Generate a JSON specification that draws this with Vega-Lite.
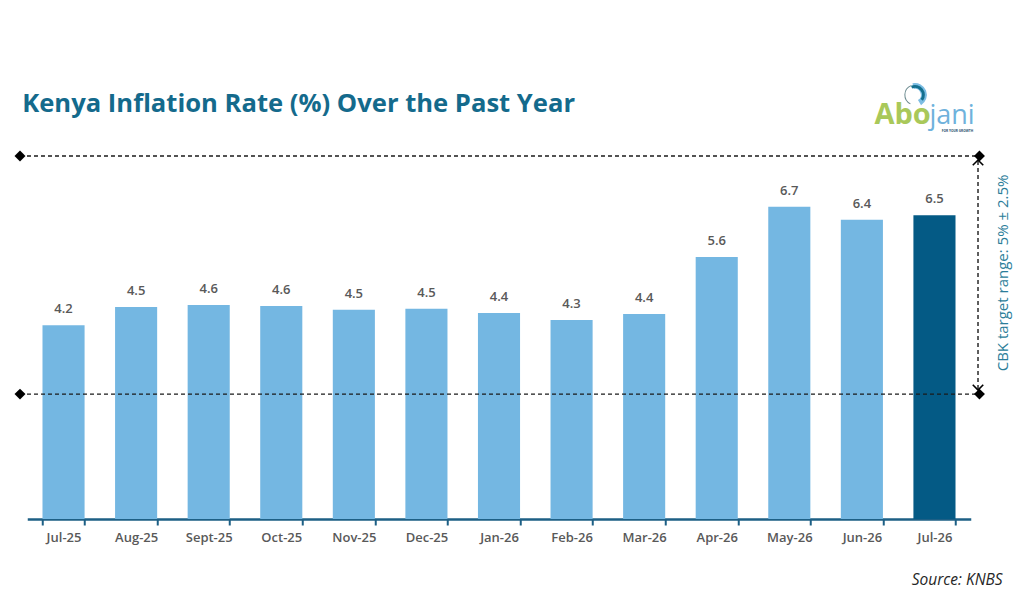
{
"$schema":"https://vega.github.io/schema/vega-lite/v6.json",
"width":943.5,"height":384,
"autosize":{"type":"none"},
"padding":{"left":27.25,"top":135,"right":53.25,"bottom":82},
"background":"white",
"title":{"text":"Kenya Inflation Rate (%) Over the Past Year","anchor":"start","frame":"group","dx":-5,"offset":-35,"font":"Open Sans","fontSize":25.6,"fontWeight":700,"color":"#146a8c"},
"config":{"view":{"stroke":null},"font":"Open Sans"},
"datasets":{
"rates":[
{"month":"Jul-25","rate":4.16,"label":"4.2","group":"past"},
{"month":"Aug-25","rate":4.55,"label":"4.5","group":"past"},
{"month":"Sept-25","rate":4.59,"label":"4.6","group":"past"},
{"month":"Oct-25","rate":4.57,"label":"4.6","group":"past"},
{"month":"Nov-25","rate":4.49,"label":"4.5","group":"past"},
{"month":"Dec-25","rate":4.51,"label":"4.5","group":"past"},
{"month":"Jan-26","rate":4.42,"label":"4.4","group":"past"},
{"month":"Feb-26","rate":4.27,"label":"4.3","group":"past"},
{"month":"Mar-26","rate":4.4,"label":"4.4","group":"past"},
{"month":"Apr-26","rate":5.62,"label":"5.6","group":"past"},
{"month":"May-26","rate":6.7,"label":"6.7","group":"past"},
{"month":"Jun-26","rate":6.42,"label":"6.4","group":"past"},
{"month":"Jul-26","rate":6.52,"label":"6.5","group":"latest"}
],
"bounds":[
{"name":"upper","from":-0.1,"to":13.12,"level":7.79},
{"name":"lower","from":-0.1,"to":13.12,"level":2.68}
],
"ends":[
{"pos":-0.1,"level":7.79},{"pos":13.12,"level":7.79},
{"pos":-0.1,"level":2.68},{"pos":13.12,"level":2.68}
],
"range":[{"pos":13.1,"low":2.79,"high":7.68}],
"arrowUp":[{"pos":13.1,"level":7.68}],
"arrowDown":[{"pos":13.1,"level":2.79}],
"note":[{"pos":13.55,"level":5.28,"text":"CBK target range: 5% ± 2.5%"}],
"source":[{"pos":13.44,"level":-1.3,"text":"Source: KNBS"}],
"logoA":[{"pos":12.45,"level":8.48,"text":"Abo"}],
"logoB":[{"pos":12.43,"level":8.48,"text":"jani"}],
"logoC":[{"pos":12.6,"level":8.3,"text":"FOR YOUR GROWTH"}],
"swoosh":[{"pos":12.23,"level":9.1}]
},
"resolve":{"scale":{"x":"independent"}},
"layer":[
{
"data":{"name":"rates"},
"encoding":{
"x":{"field":"month","type":"nominal","sort":null,
"scale":{"paddingInner":0.42,"paddingOuter":0.21},
"axis":{"title":null,"labelAngle":0,"tickBand":"extent","domainColor":"#1d5f85","domainWidth":2.5,"tickColor":"#1d5f85","tickWidth":2,"tickSize":6,"labelColor":"#595959","labelFont":"Open Sans","labelFontSize":13,"labelFontWeight":600,"labelPadding":6}},
"y":{"field":"rate","type":"quantitative","scale":{"domain":[0,8.24],"nice":false},"axis":null}
},
"layer":[
{"mark":{"type":"bar"},
"encoding":{"color":{"field":"group","type":"nominal","scale":{"domain":["past","latest"],"range":["#74b7e2","#045a85"]},"legend":null}}},
{"mark":{"type":"text","dy":-16,"fontSize":13,"fontWeight":600,"color":"#595959","font":"Open Sans"},
"encoding":{"text":{"field":"label","type":"nominal"}}}
]
},
{
"layer":[
{"data":{"name":"bounds"},
"mark":{"type":"rule","color":"#1a1a1a","strokeWidth":1.4,"strokeDash":[4,3]},
"encoding":{"x":{"field":"from","type":"quantitative","scale":{"domain":[0,13],"nice":false,"zero":false},"axis":null},"x2":{"field":"to"},"y":{"field":"level","type":"quantitative"}}},
{"data":{"name":"ends"},
"mark":{"type":"point","shape":"diamond","filled":true,"color":"#000000","size":120,"opacity":1},
"encoding":{"x":{"field":"pos","type":"quantitative"},"y":{"field":"level","type":"quantitative"}}},
{"data":{"name":"range"},
"mark":{"type":"rule","color":"#1a1a1a","strokeWidth":1.4,"strokeDash":[4,3]},
"encoding":{"x":{"field":"pos","type":"quantitative"},"y":{"field":"low","type":"quantitative"},"y2":{"field":"high"}}},
{"data":{"name":"arrowUp"},
"mark":{"type":"point","shape":"M-1,0.8L0,-0.2L1,0.8","filled":false,"color":"#000000","strokeWidth":1.6,"size":110,"opacity":1},
"encoding":{"x":{"field":"pos","type":"quantitative"},"y":{"field":"level","type":"quantitative"}}},
{"data":{"name":"arrowDown"},
"mark":{"type":"point","shape":"M-1,-0.8L0,0.2L1,-0.8","filled":false,"color":"#000000","strokeWidth":1.6,"size":110,"opacity":1},
"encoding":{"x":{"field":"pos","type":"quantitative"},"y":{"field":"level","type":"quantitative"}}},
{"data":{"name":"note"},
"mark":{"type":"text","angle":270,"fontSize":15,"color":"#2b7d99","font":"Open Sans","align":"center","baseline":"bottom"},
"encoding":{"x":{"field":"pos","type":"quantitative"},"y":{"field":"level","type":"quantitative"},"text":{"field":"text"}}},
{"data":{"name":"source"},
"mark":{"type":"text","fontSize":15.5,"fontStyle":"italic","color":"#262626","font":"Open Sans","align":"right"},
"encoding":{"x":{"field":"pos","type":"quantitative"},"y":{"field":"level","type":"quantitative"},"text":{"field":"text"}}},
{"data":{"name":"logoA"},
"mark":{"type":"text","fontSize":29,"fontWeight":700,"color":"#a9c85a","font":"Open Sans","align":"right","baseline":"alphabetic"},
"encoding":{"x":{"field":"pos","type":"quantitative"},"y":{"field":"level","type":"quantitative"},"text":{"field":"text"}}},
{"data":{"name":"logoB"},
"mark":{"type":"text","fontSize":27,"fontWeight":500,"color":"#6fb2dc","font":"Open Sans","align":"left","baseline":"alphabetic"},
"encoding":{"x":{"field":"pos","type":"quantitative"},"y":{"field":"level","type":"quantitative"},"text":{"field":"text"}}},
{"data":{"name":"logoC"},
"mark":{"type":"text","fontSize":3.2,"fontWeight":700,"color":"#1f4f6b","font":"Open Sans","align":"left","baseline":"alphabetic"},
"encoding":{"x":{"field":"pos","type":"quantitative"},"y":{"field":"level","type":"quantitative"},"text":{"field":"text"}}},
{"data":{"name":"swoosh"},
"mark":{"type":"arc","innerRadius":6,"outerRadius":12,"theta":-0.2,"theta2":2.6,"color":"#7dbde3"},
"encoding":{"x":{"field":"pos","type":"quantitative"},"y":{"field":"level","type":"quantitative"}}},
{"data":{"name":"swoosh"},
"mark":{"type":"arc","innerRadius":7,"outerRadius":10,"theta":-0.4,"theta2":2.2,"color":"#14708f"},
"encoding":{"x":{"field":"pos","type":"quantitative"},"y":{"field":"level","type":"quantitative"}}},
{"data":{"name":"swoosh"},
"mark":{"type":"arc","innerRadius":9.5,"outerRadius":10.5,"theta":3.6,"theta2":5.9,"color":"#6b8a8f"},
"encoding":{"x":{"field":"pos","type":"quantitative"},"y":{"field":"level","type":"quantitative"}}}
]
}
]
}
